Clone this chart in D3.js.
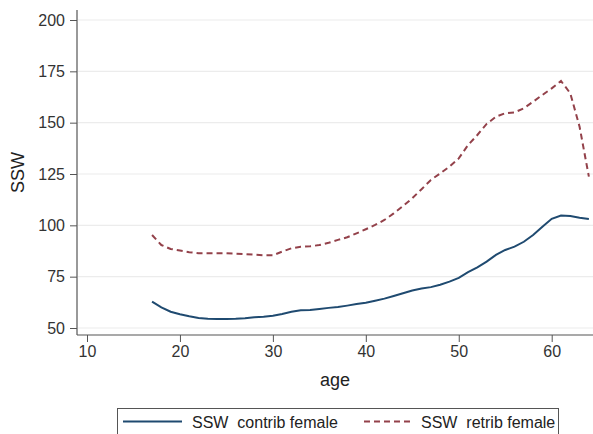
<!DOCTYPE html>
<html>
<head>
<meta charset="utf-8">
<script src="https://cdn.jsdelivr.net/npm/d3@7"></script>
<style>
    body { margin: 0; background: #fff; }
    svg { display: block; font-family: Arial, "Liberation Sans", sans-serif; }
    .tick text { fill: #333; font-size: 16px; }
</style>
</head>
<body>
<script>
(function() {
    'use strict';

    // values
    let ages = [17, 18, 19, 20, 21, 22, 23, 24, 25, 26, 27, 28, 29, 30, 31, 32,
                33, 34, 35, 36, 37, 38, 39, 40, 41, 42, 43, 44, 45, 46, 47, 48,
                49, 50, 51, 52, 53, 54, 55, 56, 57, 58, 59, 60, 61, 62, 63, 64];
    let contribFemale = [62.8, 60.0, 57.9, 56.7, 55.7, 54.9, 54.5, 54.4, 54.4, 54.5,
                         54.7, 55.2, 55.5, 56.0, 56.8, 57.9, 58.6, 58.8, 59.3, 59.8,
                         60.2, 60.9, 61.7, 62.3, 63.3, 64.3, 65.6, 66.9, 68.3, 69.2,
                         69.9, 71.1, 72.6, 74.4, 77.2, 79.5, 82.3, 85.6, 88.0, 89.6,
                         92.0, 95.3, 99.3, 103.2, 104.8, 104.5, 103.7, 103.1];
    let retribFemale = [95.3, 90.4, 88.5, 87.7, 86.9, 86.4, 86.4, 86.4, 86.4, 86.2,
                        86.0, 85.7, 85.4, 85.4, 87.2, 88.8, 89.6, 89.8, 90.4, 91.5,
                        92.9, 94.2, 96.1, 98.1, 100.2, 102.6, 105.8, 109.4, 113.2, 117.6,
                        122.1, 125.3, 128.6, 132.6, 139.1, 144.0, 149.4, 152.9, 154.6, 155.0,
                        157.0, 160.2, 163.5, 166.7, 170.3, 164.3, 148.0, 123.7];
    let xTicks = [10, 20, 30, 40, 50, 60];
    let yTicks = [50, 75, 100, 125, 150, 175, 200];
    let seriesNames = ["SSW  contrib female", "SSW  retrib female"];

    let width = 593, height = 434;
    let plotLeft = 77, plotRight = 593, plotTop = 10, plotBottom = 335;

    let x = d3.scaleLinear().domain([10, 60]).range([87, 551.7]);
    let y = d3.scaleLinear().domain([50, 200]).range([328, 20]);

    let svg = d3.select("body").append("svg")
        .attr("width", width)
        .attr("height", height);

    // grid
    svg.append("g")
        .selectAll("line")
        .data(yTicks)
        .enter()
        .append("line")
        .attr("x1", plotLeft + 1)
        .attr("x2", plotRight)
        .attr("y1", function(d) { return y(d); })
        .attr("y2", function(d) { return y(d); })
        .attr("stroke", "#ececec")
        .attr("stroke-width", 1.2);

    let yAxis = svg.append("g")
        .attr("transform", "translate(" + plotLeft + ",0)")
        .call(d3.axisLeft(y).tickValues(yTicks).tickSize(7).tickPadding(5));
    yAxis.select(".domain").remove();
    yAxis.selectAll(".tick line").attr("stroke", "#555");

    let xAxis = svg.append("g")
        .attr("transform", "translate(0," + plotBottom + ")")
        .call(d3.axisBottom(x).tickValues(xTicks).tickSize(7).tickPadding(4));
    xAxis.select(".domain").remove();
    xAxis.selectAll(".tick line").attr("stroke", "#555");

    // axis lines
    svg.append("line")
        .attr("x1", plotLeft).attr("x2", plotLeft)
        .attr("y1", plotTop).attr("y2", plotBottom)
        .attr("stroke", "#555").attr("stroke-width", 1.2);
    svg.append("line")
        .attr("x1", plotLeft).attr("x2", plotRight)
        .attr("y1", plotBottom).attr("y2", plotBottom)
        .attr("stroke", "#555").attr("stroke-width", 1.2);

    let line = d3.line()
        .x(function(d) { return x(d[0]); })
        .y(function(d) { return y(d[1]); });

    svg.append("path")
        .datum(d3.zip(ages, contribFemale))
        .attr("d", line)
        .attr("fill", "none")
        .attr("stroke", "#1f4a70")
        .attr("stroke-width", 2);

    svg.append("path")
        .datum(d3.zip(ages, retribFemale))
        .attr("d", line)
        .attr("fill", "none")
        .attr("stroke", "#93414a")
        .attr("stroke-width", 2)
        .attr("stroke-dasharray", "6,4");

    // axis titles
    svg.append("text")
        .attr("transform", "translate(24," + ((plotTop + plotBottom) / 2) + ")rotate(-90)")
        .attr("text-anchor", "middle")
        .attr("font-size", 18)
        .attr("fill", "#222")
        .text("SSW");
    svg.append("text")
        .attr("x", (plotLeft + plotRight) / 2)
        .attr("y", 386)
        .attr("text-anchor", "middle")
        .attr("font-size", 18)
        .attr("fill", "#222")
        .text("age");

    // legend
    let legend = svg.append("g");
    legend.append("rect")
        .attr("x", 117.5).attr("y", 408.5)
        .attr("width", 441).attr("height", 40)
        .attr("fill", "#fff")
        .attr("stroke", "#555");
    let items = [
        { name: seriesNames[0], color: "#1f4a70", dash: null, x0: 123, x1: 182, tx: 192 },
        { name: seriesNames[1], color: "#93414a", dash: "6,4", x0: 364, x1: 411, tx: 421 }
    ];
    items.forEach(function(d) {
        legend.append("line")
            .attr("x1", d.x0).attr("x2", d.x1)
            .attr("y1", 421.5).attr("y2", 421.5)
            .attr("stroke", d.color)
            .attr("stroke-width", 2)
            .attr("stroke-dasharray", d.dash);
        legend.append("text")
            .attr("x", d.tx).attr("y", 428)
            .attr("font-size", 16)
            .attr("fill", "#222")
            .attr("xml:space", "preserve")
            .style("white-space", "pre")
            .text(d.name);
    });
})();
</script>
</body>
</html>
